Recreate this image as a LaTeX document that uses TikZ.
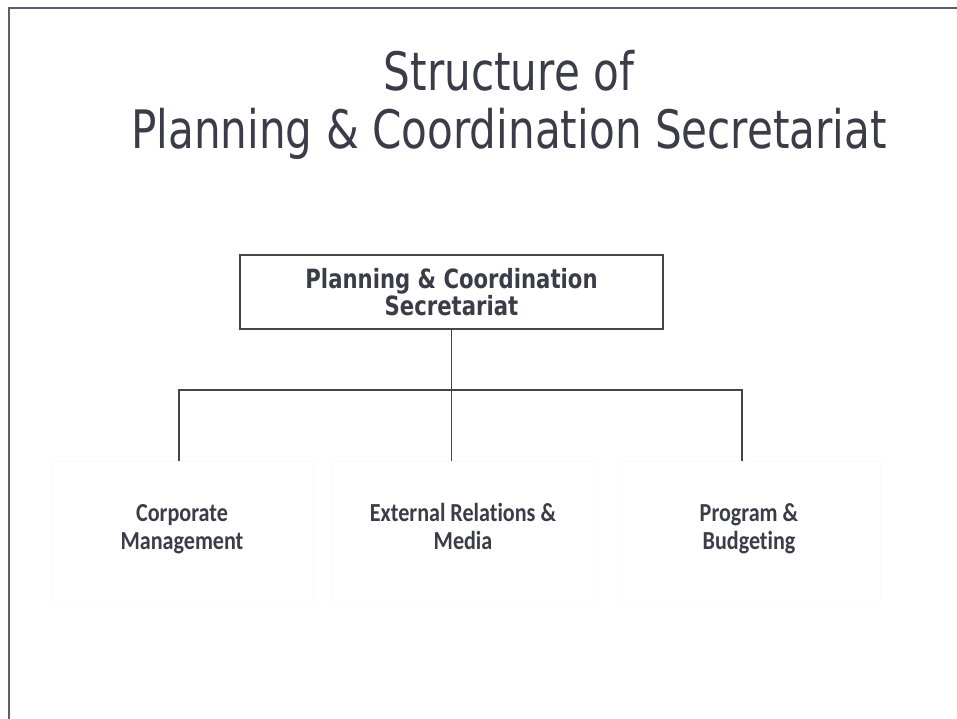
\documentclass[tikz,border=0pt]{standalone}
\usepackage{fontspec}
\setmainfont{DejaVu Sans}
\newfontfamily\titlefont{DejaVu Sans}[FakeStretch=0.795]
\newfontfamily\headfont{DejaVu Sans}[FakeStretch=0.8]
\newfontfamily\unitfont{Carlito}[Ligatures=CommonOff, FakeStretch=0.85]
\usetikzlibrary{positioning}
\definecolor{ink}{HTML}{3A3C48}
\definecolor{rule}{HTML}{45454F}
\definecolor{slideedge}{HTML}{5A5E70}
\tikzstyle{title} = [text=ink, align=center, font=\titlefont\fontsize{53}{58}\selectfont]
\tikzstyle{head} = [rectangle, minimum width=423pt, minimum height=74pt, text centered, align=center, draw=rule, line width=1.2pt, text=ink, font=\headfont\bfseries\fontsize{26.5}{27.5}\selectfont]
\tikzstyle{unit} = [rectangle, minimum width=262pt, minimum height=140pt, text centered, align=center, draw=black!2, text=ink, font=\unitfont\bfseries\fontsize{26}{28}\selectfont, execute at begin node=\strut, execute at end node=\strut]
\tikzstyle{link} = [draw=rule, line width=1.8pt]
\begin{document}
\begin{tikzpicture}[x=1pt, y=-1pt]
\useasboundingbox (0,0) rectangle (957,719);

% slide edge
\draw [slideedge, line width=2pt] (9,719) -- (9,8) -- (957,8);

\node (title) [title] at (509,105) {Structure of\\Planning \& Coordination Secretariat};
\node (head) [head] at (451.5,292) {Planning \& Coordination\\Secretariat};

\node (corp) [unit] at (182,531) {Corporate\\Management};
\node (ext) [unit] at (463,531) {External Relations \&\\Media};
\node (prog) [unit] at (749,531) {Program \&\\Budgeting};

\coordinate (bus) at (451.5,390);
\draw [link] (head.south) -- (bus);
\draw [link] ([xshift=-3pt]corp.north) |- (bus) -| ([xshift=-7pt]prog.north);
\draw [link] (bus) -- ([xshift=-11.5pt]ext.north);
\end{tikzpicture}
\end{document}
